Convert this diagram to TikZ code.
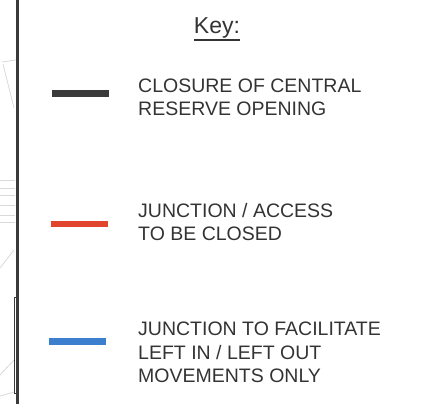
\documentclass[tikz,border=0pt]{standalone}
\usepackage{fontspec}
\setmainfont{Liberation Sans}
\usepackage{tikz}

\definecolor{keyblack}{HTML}{3A3A3A}
\definecolor{keyred}{HTML}{E2452E}
\definecolor{keyblue}{HTML}{3C7FCF}
\definecolor{inkgrey}{HTML}{333333}

\begin{document}
\begin{tikzpicture}[x=1pt, y=-1pt, every node/.style={text=inkgrey}]
    \tikzstyle{keybar}=[draw=none, minimum width=57pt, minimum height=6.5pt, inner sep=0pt]
    \tikzstyle{keytext}=[anchor=north west, inner sep=0pt, align=left, font=\fontsize{19.5}{23.5}\selectfont]
    \tikzstyle{mapline}=[gray!30, line width=0.8pt]

    \useasboundingbox (0,0) rectangle (429,404);

    % faint map behind the frame
    \draw[mapline] (2,62) -- (16,60);
    \draw[mapline] (3,64) -- (14,108);
    \draw[mapline] (0,180) -- (15,180);
    \draw[mapline] (0,188) -- (15,188);
    \draw[mapline] (0,195) -- (15,195);
    \draw[mapline] (0,205) -- (15,205);
    \draw[mapline] (0,215) -- (15,215);
    \draw[mapline] (0,222) -- (15,222);
    \draw[mapline] (0,268) -- (14,250);
    \draw[mapline] (0,375) -- (14,360);
    \draw[mapline] (0,396) -- (14,392);

    % frame edge
    \draw[keyblack, line width=2.2pt] (17.5,0) -- (17.5,404);
    \draw[keyblack, line width=0.9pt] (14,297) rectangle (17,393);

    \node[font=\fontsize{23}{27}\selectfont, anchor=base, inner sep=0pt] (title) at (217,34) {Key:};
    \draw[inkgrey, line width=1.8pt] ([yshift=-6pt]title.base west) -- ([yshift=-6pt]title.base east);

    \node[keybar, fill=keyblack] (barA) at (80,93.5) {};
    \node[keytext] (textA) at (138,78.5) {CLOSURE OF CENTRAL\\RESERVE OPENING};

    \node[keybar, fill=keyred] (barB) at (79.5,224) {};
    \node[keytext] (textB) at (138,203) {JUNCTION / ACCESS\\TO BE CLOSED};

    \node[keybar, fill=keyblue] (barC) at (77.5,341.5) {};
    \node[keytext] (textC) at (138,322) {JUNCTION TO FACILITATE\\LEFT IN / LEFT OUT\\MOVEMENTS ONLY};
\end{tikzpicture}
\end{document}
